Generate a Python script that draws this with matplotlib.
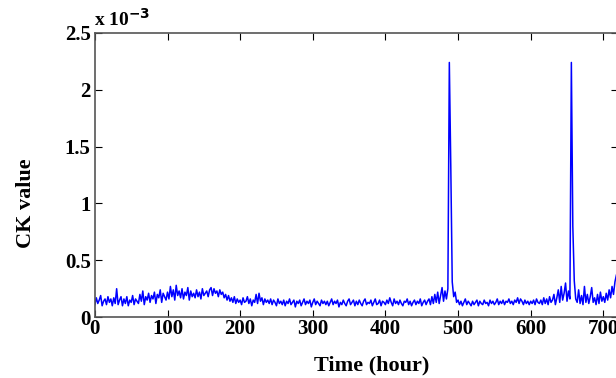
import numpy as np
import matplotlib
matplotlib.use('Agg')
import matplotlib.pyplot as plt

# CK value, in units of 1e-3, sampled every 2 hours from 0 to 720
ck_e3 = [
    .11, .17, .12, .15, .19, .10, .14, .16, .11, .18,
    .13, .16, .10, .17, .12, .25, .11, .15, .18, .10,
    .16, .12, .18, .10, .15, .13, .19, .11, .16, .14,
    .12, .20, .14, .23, .11, .18, .15, .21, .13, .19,
    .16, .22, .12, .20, .17, .24, .13, .21, .18, .15,
    .22, .16, .27, .18, .24, .15, .28, .19, .23, .17,
    .25, .16, .22, .19, .26, .15, .23, .18, .21, .17,
    .24, .18, .22, .16, .25, .19, .21, .23, .18, .24,
    .26, .19, .25, .21, .23, .18, .24, .20, .22, .17,
    .20, .15, .19, .14, .17, .13, .18, .12, .16, .13,
    .15, .11, .17, .13, .14, .18, .12, .16, .10, .15,
    .13, .20, .12, .21, .14, .17, .11, .16, .13, .15,
    .12, .16, .11, .15, .13, .10, .16, .12, .14, .11,
    .15, .10, .14, .12, .16, .11, .13, .15, .09, .14,
    .12, .15, .10, .13, .16, .11, .14, .12, .15, .09,
    .13, .16, .11, .14, .12, .10, .15, .12, .14, .11,
    .14, .10, .13, .16, .11, .14, .12, .15, .09, .13,
    .11, .15, .12, .10, .14, .16, .11, .13, .15, .10,
    .14, .11, .15, .12, .10, .14, .16, .11, .13, .12,
    .15, .10, .13, .16, .11, .12, .15, .10, .14, .13,
    .11, .15, .12, .17, .13, .10, .16, .12, .14, .11,
    .15, .12, .10, .14, .13, .16, .11, .14, .10, .13,
    .15, .11, .14, .12, .16, .10, .13, .15, .11, .14,
    .16, .11, .18, .12, .20, .13, .22, .12, .19, .26,
    .14, .23, .16, .25, 2.24, 1.33, .31, .18, .22, .13,
    .15, .11, .14, .10, .13, .16, .11, .14, .12, .10,
    .14, .11, .13, .15, .10, .14, .12, .11, .15, .12,
    .13, .10, .15, .12, .14, .11, .13, .16, .11, .14,
    .12, .15, .11, .14, .13, .16, .12, .14, .11, .15,
    .13, .17, .12, .16, .14, .11, .15, .12, .14, .11,
    .14, .12, .15, .11, .16, .13, .12, .15, .11, .17,
    .12, .16, .11, .18, .13, .15, .20, .11, .17, .24,
    .13, .27, .15, .21, .30, .14, .23, .16, 2.24, .80,
    .32, .16, .13, .24, .12, .19, .11, .27, .13, .20,
    .12, .18, .26, .13, .17, .11, .20, .12, .22, .14,
    .18, .13, .21, .15, .24, .17, .27, .20, .31, .37,
    .41,
]
hours = np.arange(len(ck_e3)) * 2

y_ticks = [0, 0.5, 1, 1.5, 2, 2.5]
y_labels = ['0', '0.5', '1', '1.5', '2', '2.5']
x_ticks = [0, 100, 200, 300, 400, 500, 600, 700]

plt.rcParams['font.family'] = 'Liberation Serif'
plt.rcParams['font.weight'] = 'bold'

fig = plt.figure(figsize=(6.16, 3.78), dpi=100)
ax = fig.add_axes([0.154, 0.161, 0.849, 0.752])

ax.plot(hours, ck_e3, color='#0000ff', lw=1.1)

ax.set_xlim(0, 720)
ax.set_ylim(0, 2.5)
ax.set_xticks(x_ticks)
ax.set_yticks(y_ticks)
ax.set_yticklabels(y_labels)
ax.tick_params(direction='in', top=True, right=True, length=5, labelsize=15)
ax.tick_params(axis='y', pad=3)
ax.tick_params(axis='x', pad=1)
for s in ax.spines.values():
    s.set_color('#555555')
    s.set_linewidth(1.2)

ax.text(-1, 2.53, r'x 10$^{\mathbf{-3}}$', fontsize=14, fontweight='bold', va='bottom')
ax.set_xlabel('Time (hour)', fontsize=16, fontweight='bold')
ax.set_ylabel('CK value', fontsize=16, fontweight='bold')
ax.xaxis.set_label_coords(0.53, -0.135)
ax.yaxis.set_label_coords(-0.113, 0.40)

fig.savefig('out.png', dpi=100)
